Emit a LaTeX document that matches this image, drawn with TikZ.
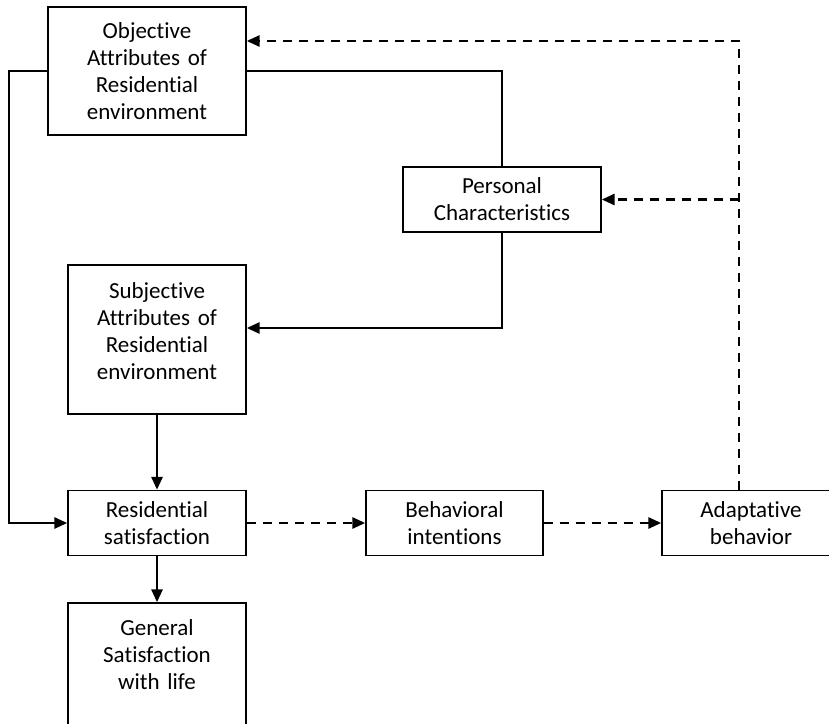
\documentclass[tikz,border=0pt]{standalone}
\usepackage{fontspec}
\setmainfont{Carlito}[Ligatures=NoCommon]
\usetikzlibrary{arrows.meta}

\tikzset{
    box/.style={draw, line width=0.7pt, align=center, inner sep=0pt,
        font=\fontsize{11.5}{13.5}\selectfont},
    pad/.style={execute at end node={\par\vspace*{#1}}},
    wire/.style={line width=1.4pt},
    link/.style={wire, -{Triangle[length=6.5pt,width=5.5pt]}},
    dashlink/.style={link, dash pattern=on 4.5pt off 3.5pt},
}

\begin{document}
\begin{tikzpicture}[x=0.5pt, y=-0.5pt]
    \useasboundingbox (0,0) rectangle (829,723);

    % 方框
    \node[box, minimum width=99pt, minimum height=64pt, text width=92pt] (obj) at (147,71)
        {Objective\\Attributes of\\Residential\\environment};
    \node[box, minimum width=99pt, minimum height=32.5pt, text width=92pt] (pers) at (502,199.5)
        {Personal\\Characteristics};
    \node[box, pad=8pt, minimum width=89pt, minimum height=74.5pt, text width=84pt] (subj) at (157,339.5)
        {Subjective\\Attributes of\\Residential\\environment};
    \node[box, minimum width=89pt, minimum height=32.5pt, text width=84pt] (res) at (157,523)
        {Residential\\satisfaction};
    \node[box, minimum width=88.5pt, minimum height=32.5pt, text width=84pt] (beh) at (454.5,523)
        {Behavioral\\intentions};
    \node[box, minimum width=89pt, minimum height=32.5pt, text width=84pt] (adap) at (751,523)
        {Adaptative\\behavior};
    \node[box, pad=12pt, minimum width=89pt, minimum height=64pt, text width=84pt] (gen) at (157,667)
        {General\\Satisfaction\\with life};

    % 折点
    \coordinate (lbend) at (9,71);
    \coordinate (pbend) at (502,328);
    \coordinate (rbend) at (739,41);

    % 实线
    \draw[link] (obj.west) -- (lbend) |- (res.west);
    \draw[wire] (obj.east) -| (pers.north);
    \draw[link] (pers.south) -- (pbend) -- (subj.east |- pbend);
    \draw[link] (subj.south) -- (res.north);
    \draw[link] (res.south) -- (gen.north);

    % 虚线
    \draw[dashlink] (res.east) -- (beh.west);
    \draw[dashlink] (beh.east) -- (adap.west);
    \draw[dashlink] (adap.north -| rbend) -- (rbend) -- (obj.east |- rbend);
    \draw[dashlink] (rbend |- pers.east) -- (pers.east);
\end{tikzpicture}
\end{document}
